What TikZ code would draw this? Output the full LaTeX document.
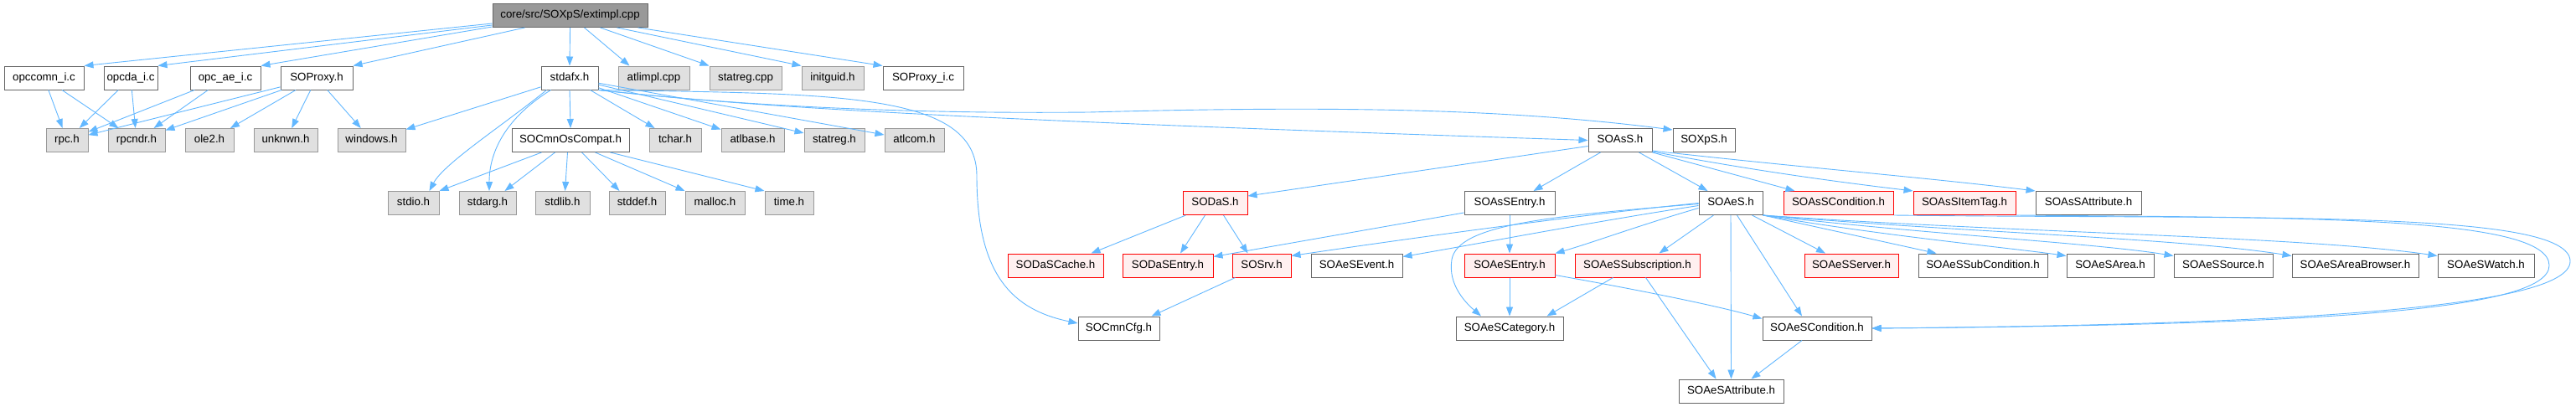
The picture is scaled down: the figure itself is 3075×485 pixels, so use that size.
\documentclass[tikz,border=0pt]{standalone}
\usepackage{fontspec}
\setmainfont{Liberation Sans}
\usetikzlibrary{arrows.meta}
\definecolor{edgec}{HTML}{63B8FF}
\definecolor{grayfill}{HTML}{E0E0E0}
\definecolor{grayline}{HTML}{999999}
\definecolor{darkline}{HTML}{666666}
\definecolor{redfill}{HTML}{FFF0F0}
\definecolor{redline}{HTML}{FF0000}
\begin{document}
\begin{tikzpicture}[x=1pt,y=-1pt,
 nbox/.style={rectangle, draw, line width=1pt, minimum height=28pt, inner sep=0pt, text height=9.6pt, text depth=2.7pt, font=\fontsize{13.3}{16}\selectfont},
 wbox/.style={nbox, draw=darkline, fill=white},
 gbox/.style={nbox, draw=grayline, fill=grayfill},
 rbox/.style={nbox, draw=redline, fill=redfill},
 rootbox/.style={nbox, draw=darkline, fill=grayline},
 dep/.style={draw=edgec, line width=0.9pt, -{Triangle[length=11pt,width=8pt]}}]
\useasboundingbox[fill=white] (0,0) rectangle (3075,485);
% row 0
\node[rootbox, minimum width=185] (root) at (680.5,18.5) {core/src/SOXpS/extimpl.cpp};
% row 1
\node[wbox, minimum width=95] (opccomn) at (52.5,93) {opccomn\_i.c};
\node[wbox, minimum width=64] (opcda) at (156,93) {opcda\_i.c};
\node[wbox, minimum width=84] (opcae) at (269,93) {opc\_ae\_i.c};
\node[wbox, minimum width=86] (SOProxy) at (378,93) {SOProxy.h};
\node[wbox, minimum width=68] (stdafx) at (680,93) {stdafx.h};
\node[gbox, minimum width=85] (atlimpl) at (780.5,93) {atlimpl.cpp};
\node[gbox, minimum width=86] (statregcpp) at (890,93) {statreg.cpp};
\node[gbox, minimum width=74] (initguid) at (994,93) {initguid.h};
\node[wbox, minimum width=96] (SOProxyi) at (1102,93) {SOProxy\_i.c};
% row 2
\node[gbox, minimum width=50] (rpc) at (80,167.5) {rpc.h};
\node[gbox, minimum width=68] (rpcndr) at (163,167.5) {rpcndr.h};
\node[gbox, minimum width=58] (ole2) at (250,167.5) {ole2.h};
\node[gbox, minimum width=76] (unknwn) at (341,167.5) {unknwn.h};
\node[gbox, minimum width=81] (windows) at (443.5,167.5) {windows.h};
\node[wbox, minimum width=140] (SOCmnOsCompat) at (681,167.5) {SOCmnOsCompat.h};
\node[gbox, minimum width=62] (tchar) at (806,167.5) {tchar.h};
\node[gbox, minimum width=75] (atlbase) at (898.5,167.5) {atlbase.h};
\node[gbox, minimum width=72] (statregh) at (996,167.5) {statreg.h};
\node[gbox, minimum width=71] (atlcom) at (1091.5,167.5) {atlcom.h};
\node[wbox, minimum width=76] (SOAsS) at (1934,167.5) {SOAsS.h};
\node[wbox, minimum width=74] (SOXpS) at (2034,167.5) {SOXpS.h};
% row 3
\node[gbox, minimum width=61] (stdio) at (493.5,242.5) {stdio.h};
\node[gbox, minimum width=68] (stdarg) at (582,242.5) {stdarg.h};
\node[gbox, minimum width=65] (stdlib) at (671.5,242.5) {stdlib.h};
\node[gbox, minimum width=67] (stddef) at (760.5,242.5) {stddef.h};
\node[gbox, minimum width=71] (malloc) at (853.5,242.5) {malloc.h};
\node[gbox, minimum width=58] (time) at (942,242.5) {time.h};
\node[rbox, minimum width=77] (SODaS) at (1450.5,242.5) {SODaS.h};
\node[wbox, minimum width=108] (SOAsSEntry) at (1802,242.5) {SOAsSEntry.h};
\node[wbox, minimum width=76] (SOAeS) at (2066,242.5) {SOAeS.h};
\node[rbox, minimum width=131] (SOAsSCondition) at (2194.5,242.5) {SOAsSCondition.h};
\node[rbox, minimum width=122] (SOAsSItemTag) at (2345,242.5) {SOAsSItemTag.h};
\node[wbox, minimum width=126] (SOAsSAttribute) at (2493,242.5) {SOAsSAttribute.h};
% row 4
\node[rbox, minimum width=114] (SODaSCache) at (1260,317) {SODaSCache.h};
\node[rbox, minimum width=108] (SODaSEntry) at (1394,317) {SODaSEntry.h};
\node[rbox, minimum width=70] (SOSrv) at (1506,317) {SOSrv.h};
\node[wbox, minimum width=109] (SOAeSEvent) at (1619.5,317) {SOAeSEvent.h};
\node[rbox, minimum width=108] (SOAeSEntry) at (1802,317) {SOAeSEntry.h};
\node[rbox, minimum width=149] (SOAeSSubscription) at (1954.5,317) {SOAeSSubscription.h};
\node[rbox, minimum width=112] (SOAeSServer) at (2210,317) {SOAeSServer.h};
\node[wbox, minimum width=154] (SOAeSSubCondition) at (2367,317) {SOAeSSubCondition.h};
\node[wbox, minimum width=104] (SOAeSArea) at (2519,317) {SOAeSArea.h};
\node[wbox, minimum width=118] (SOAeSSource) at (2654,317) {SOAeSSource.h};
\node[wbox, minimum width=151] (SOAeSAreaBrowser) at (2811.5,317) {SOAeSAreaBrowser.h};
\node[wbox, minimum width=115] (SOAeSWatch) at (2967.5,317) {SOAeSWatch.h};
% row 5
\node[wbox, minimum width=97] (SOCmnCfg) at (1335.5,392) {SOCmnCfg.h};
\node[wbox, minimum width=128] (SOAeSCategory) at (1802,392) {SOAeSCategory.h};
\node[wbox, minimum width=130] (SOAeSCondition) at (2169,392) {SOAeSCondition.h};
% row 6
\node[wbox, minimum width=125] (SOAeSAttribute) at (2066.5,467) {SOAeSAttribute.h};

% root edges
\draw[dep] ([yshift=5pt]root.south west) -- (opccomn.north east);
\draw[dep] ([yshift=3pt]root.south west) -- (opcda.north east);
\draw[dep] ([yshift=1pt]root.south west) -- (opcae.north east);
\draw[dep] ([xshift=39pt]root.south west) -- (SOProxy.north east);
\draw[dep] (root.south) -- (stdafx.north);
\draw[dep] ([xshift=110pt]root.south west) -- ([xshift=14pt]atlimpl.north west);
\draw[dep] ([xshift=129pt]root.south west) -- (statregcpp.north west);
\draw[dep] ([xshift=149pt]root.south west) -- (initguid.north west);
\draw[dep] ([xshift=174pt]root.south west) -- (SOProxyi.north west);
% row 1 to row 2
\draw[dep] (opccomn) -- (rpc);
\draw[dep] (opccomn) -- (rpcndr);
\draw[dep] (opcda) -- (rpc);
\draw[dep] (opcda) -- (rpcndr);
\draw[dep] (opcae) -- (rpc);
\draw[dep] (opcae) -- (rpcndr);
\draw[dep] (SOProxy) -- (rpc);
\draw[dep] (SOProxy) -- (rpcndr);
\draw[dep] (SOProxy) -- (ole2);
\draw[dep] (SOProxy) -- (unknwn);
\draw[dep] (SOProxy) -- (windows);
% stdafx
\draw[dep] (stdafx) -- (windows);
\draw[dep] ([xshift=7pt]stdafx.south west) .. controls (600,150) and (530,195) .. ([xshift=19pt]stdio.north);
\draw[dep] ([xshift=12pt]stdafx.south west) .. controls (605,140) and (584,180) .. ([xshift=2pt]stdarg.north);
\draw[dep] (stdafx.south) -- (SOCmnOsCompat.north);
\draw[dep] (stdafx) -- (tchar);
\draw[dep] (stdafx) -- (atlbase);
\draw[dep] (stdafx) -- (statregh);
\draw[dep] (stdafx) -- (atlcom);
\draw[dep] (stdafx.south east) .. controls (900,128) and (1150,143) .. (SOAsS.west);
\draw[dep] (stdafx.south east) .. controls (900,128) and (1100,136) .. (1300,134) .. controls (1600,126) and (1800,130) .. ([yshift=-2pt]SOXpS.north west);
\draw[dep] (stdafx.south east) .. controls (1000,112) and (1166,110) .. (1166,210) .. controls (1166,330) and (1210,370) .. ([yshift=6pt]SOCmnCfg.west);
% SOCmnOsCompat
\draw[dep] ([xshift=36pt]SOCmnOsCompat.south west) -- (stdio.north east);
\draw[dep] ([xshift=52pt]SOCmnOsCompat.south west) -- ([xshift=-14pt]stdarg.north east);
\draw[dep] ([xshift=67pt]SOCmnOsCompat.south west) -- ([xshift=3pt]stdlib.north);
\draw[dep] ([xshift=84pt]SOCmnOsCompat.south west) -- ([xshift=-21pt]stddef.north);
\draw[dep] ([xshift=100pt]SOCmnOsCompat.south west) -- (malloc.north west);
\draw[dep] ([xshift=118pt]SOCmnOsCompat.south west) -- (time.north west);
% SOAsS
\draw[dep] ([yshift=-7pt]SOAsS.west) -- ([yshift=-6pt]SODaS.north east);
\draw[dep] ([xshift=15pt]SOAsS.south west) -- ([xshift=-26pt]SOAsSEntry.north east);
\draw[dep] ([xshift=61pt]SOAsS.south west) -- ([xshift=11pt]SOAeS.north west);
\draw[dep] (SOAsS.south east) -- ([xshift=14pt]SOAsSCondition.north west);
\draw[dep] ([yshift=1pt]SOAsS.south east) .. controls (2100,205) and (2200,218) .. (SOAsSItemTag.north west);
\draw[dep] ([yshift=2pt]SOAsS.south east) .. controls (2150,200) and (2300,212) .. (SOAsSAttribute.north west);
% SODaS
\draw[dep] ([xshift=4pt]SODaS.south west) -- ([xshift=-15pt]SODaSCache.north east);
\draw[dep] ([xshift=27pt]SODaS.south west) -- ([xshift=15pt]SODaSEntry.north);
\draw[dep] ([xshift=49pt]SODaS.south west) -- ([xshift=19pt]SOSrv.north west);
% SOAsSEntry
\draw[dep] ([yshift=3pt]SOAsSEntry.south west) -- ([yshift=-4pt]SODaSEntry.north east);
\draw[dep] (SOAsSEntry.south) -- (SOAeSEntry.north);
% SOAeS
\draw[dep] (SOAeS.west) .. controls (1900,255) and (1700,282) .. ([yshift=-3pt]SOSrv.north east);
\draw[dep] ([yshift=-3pt]SOAeS.west) .. controls (1900,265) and (1760,292) .. ([yshift=-4pt]SOAeSEvent.north east);
\draw[dep] ([yshift=-6pt]SOAeS.west) .. controls (1960,268) and (1900,290) .. (SOAeSEntry.north east);
\draw[dep] ([yshift=-1pt]SOAeS.west) .. controls (1850,258) and (1740,268) .. (1733,310) .. controls (1728,340) and (1750,362) .. ([xshift=-34pt]SOAeSCategory.north);
\draw[dep] ([xshift=18pt]SOAeS.south west) -- ([xshift=26pt]SOAeSSubscription.north);
\draw[dep] (SOAeS.south) -- (SOAeSAttribute.north);
\draw[dep] ([xshift=46pt]SOAeS.south west) -- ([xshift=-18pt]SOAeSCondition.north);
\draw[dep] ([xshift=64pt]SOAeS.south west) -- ([xshift=-31pt]SOAeSServer.north);
\draw[dep] (SOAeS.south east) -- ([xshift=22pt]SOAeSSubCondition.north west);
\draw[dep] (SOAeS.south east) .. controls (2250,282) and (2400,296) .. ([yshift=-3pt]SOAeSArea.north west);
\draw[dep] (SOAeS.south east) .. controls (2300,280) and (2500,290) .. ([yshift=-3pt]SOAeSSource.north west);
\draw[dep] (SOAeS.south east) .. controls (2350,278) and (2600,284) .. ([yshift=-3pt]SOAeSAreaBrowser.north west);
\draw[dep] (SOAeS.south east) .. controls (2400,278) and (2750,282) .. ([yshift=-3pt]SOAeSWatch.north west);
% lower rows
\draw[dep] ([xshift=4pt]SOSrv.south west) -- ([xshift=-10pt]SOCmnCfg.north east);
\draw[dep] (SOAeSEntry.south) -- (SOAeSCategory.north);
\draw[dep] ([yshift=3pt]SOAeSEntry.south east) .. controls (1950,345) and (2050,365) .. ([yshift=-3pt]SOAeSCondition.north west);
\draw[dep] ([xshift=46pt]SOAeSSubscription.south west) -- ([xshift=-20pt]SOAeSCategory.north east);
\draw[dep] ([xshift=85pt]SOAeSSubscription.south west) -- ([xshift=-18pt]SOAeSAttribute.north);
\draw[dep] ([xshift=-18pt]SOAeSCondition.south) -- ([xshift=24pt]SOAeSAttribute.north);
% loops
\draw[dep] (SOAsSCondition.south east) .. controls (2700,262) and (3068,250) .. (3068,312) .. controls (3068,370) and (2700,388) .. (SOAeSCondition.east);
\draw[dep] (SOAsSItemTag.south east) .. controls (2750,260) and (3043,258) .. (3043,317) .. controls (3043,372) and (2750,388) .. (SOAeSCondition.east);
\end{tikzpicture}
\end{document}
